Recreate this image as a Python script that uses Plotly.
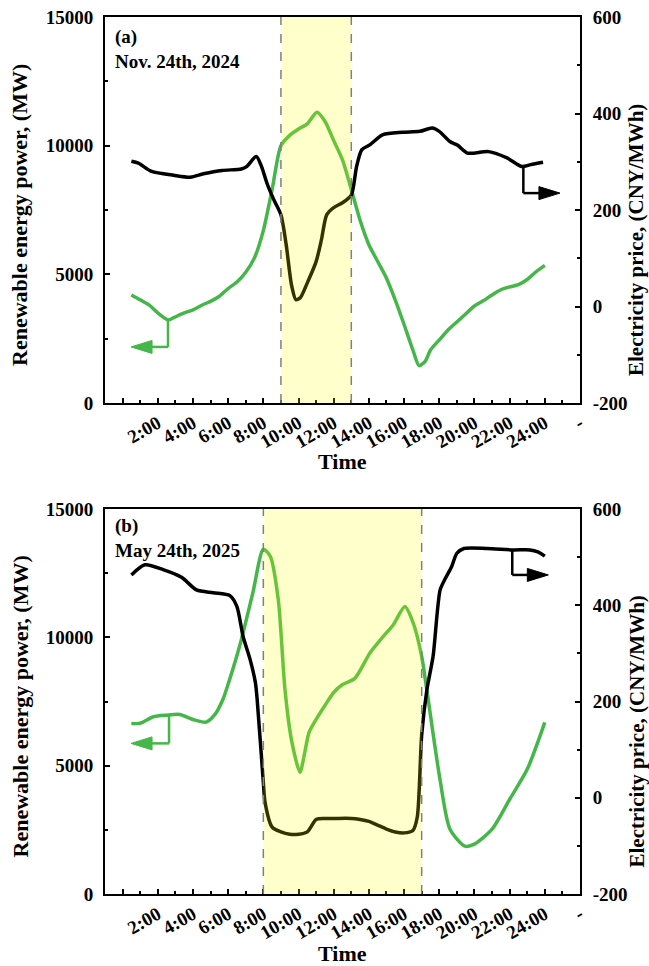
import plotly.graph_objects as go
from plotly.subplots import make_subplots

# ---------------- data ----------------
# Panel (a) Nov. 24th, 2024
t_power_a = [0.5, 1.0, 1.5, 2.0, 2.6, 3.0, 3.5, 4.0, 4.5, 5.0, 5.5, 6.0, 6.5, 7.0, 7.5, 8.0, 8.5, 9.0,
             9.5, 10.0, 10.5, 11.05, 11.5, 12.0, 12.5, 13.0, 13.5, 14.0, 14.5, 15.0, 15.5, 16.0, 16.5,
             16.85, 17.2, 17.5, 18.0, 18.5, 19.0, 19.5, 20.0, 20.5, 21.0, 21.5, 22.0, 22.5, 23.0, 23.5, 24.0]
power_a = [4200, 4010, 3810, 3500, 3230, 3350, 3500, 3620, 3800, 3950, 4150, 4450, 4700, 5080, 5650, 6700,
           8300, 10000, 10400, 10650, 10850, 11300, 10950, 10200, 9450, 8300, 7100, 6150, 5500, 4850, 4000,
           3050, 2060, 1450, 1620, 2060, 2450, 2840, 3150, 3460, 3770, 3970, 4200, 4400, 4510, 4600, 4800,
           5100, 5350]
t_price_a = [0.5, 0.9, 1.65, 2.9, 3.85, 4.6, 5.65, 6.75, 7.05, 7.6, 7.9, 8.2, 8.6, 9.0, 9.3, 9.6, 9.85,
             10.1, 10.5, 11.0, 11.3, 11.6, 12.0, 12.5, 13.0, 13.3, 13.6, 14.05, 14.8, 15.9, 16.9, 17.6,
             18.0, 18.6, 19.05, 19.6, 20.8, 21.85, 22.7, 23.2, 23.9]
price_a = [301, 297, 280, 272, 268, 275, 282, 285, 290, 311, 290, 256, 221, 190, 128, 45, 14, 18, 49, 93,
           138, 190, 205, 215, 231, 290, 325, 335, 356, 361, 363, 370, 363, 342, 334, 318, 321, 308, 290,
           294, 299]

# Panel (b) May 24th, 2025
t_power_b = [0.5, 1.0, 1.75, 2.5, 3.25, 4.0, 4.75, 5.25, 5.7, 5.9, 6.65, 7.4, 8.0, 8.4, 8.85, 9.23, 9.6,
             10.08, 10.35, 10.6, 11.0, 11.5, 12.0, 12.5, 13.2, 14.06, 14.82, 15.39, 16.05, 16.52, 17.0,
             17.29, 18.04, 18.61, 19.46, 20.0, 21.0, 22.0, 23.0, 24.0]
power_b = [6645, 6650, 6905, 6968, 6995, 6800, 6696, 6995, 7580, 7966, 9650, 11724, 13434, 13147, 11464,
           7966, 6000, 4741, 5500, 6300, 6800, 7345, 7850, 8160, 8400, 9393, 10038, 10492, 11203, 10558,
           9260, 7966, 4470, 2525, 1865, 1943, 2526, 3690, 4857, 6684]
t_price_b = [0.5, 1.27, 2.3, 3.35, 4.2, 5.15, 6.1, 6.5, 6.85, 7.25, 7.55, 7.65, 8.0, 8.1, 8.5, 9.0, 9.5,
             10.0, 10.5, 11.0, 11.5, 12.0, 13.0, 13.5, 14.0, 14.5, 15.0, 15.5, 16.0, 16.5, 16.75, 17.0,
             17.3, 17.65, 18.05, 18.35, 18.7, 19.0, 19.4, 20.7, 22.2, 23.15, 23.6, 24.0]
price_b = [463, 484, 474, 458, 432, 426, 420, 397, 335, 287, 239, 204, 32, -10, -61, -71, -76, -76, -71,
           -45, -43, -43, -43, -45, -49, -57, -65, -71, -73, -68, -40, 130, 225, 294, 432, 456, 480, 508,
           518, 518, 515, 515, 511, 502]

shade_a = [9, 13]
shade_b = [8, 17]

tick_vals = [0, 2, 4, 6, 8, 10, 12, 14, 16, 18, 20, 22, 24, 26]
tick_text = ["", "2:00", "4:00", "6:00", "8:00", "10:00", "12:00", "14:00", "16:00", "18:00",
             "20:00", "22:00", "24:00", "-"]
power_ticks = [0, 5000, 10000, 15000]
power_tick_text = ["0", "5000", "10000", "15000"]
price_ticks = [-200, 0, 200, 400, 600]
price_tick_text = ["-200", "0", "200", "400", "600"]
panel_labels = ["(a)", "(b)"]
panel_dates = ["Nov. 24th, 2024", "May 24th, 2025"]

# arrow guides: (x on curve, y on curve, y of arrow, tip x)
arrow_power = [(2.58, 3230, 2179, 0.48), (2.64, 6968, 5868, 0.48)]
arrow_price = [(22.78, 290, 235, 24.86), (22.15, 515, 463, 24.2)]

GREEN = "#45b649"
BLACK = "#000000"
FONT = "Liberation Serif, Times New Roman, serif"

# ---------------- figure ----------------
W, H = 649, 966
ML, MR, MT, MB = 105, 69, 17, 72
fig = make_subplots(rows=2, cols=1, specs=[[{"secondary_y": True}], [{"secondary_y": True}]])

data = [(t_power_a, power_a, t_price_a, price_a), (t_power_b, power_b, t_price_b, price_b)]
for i, (tp, pw, tc, pc) in enumerate(data):
    r = i + 1
    fig.add_trace(go.Scatter(x=tp, y=pw, mode="lines", line=dict(color=GREEN, width=3.5, shape="spline",
                                                                   smoothing=0.7),
                             showlegend=False, hoverinfo="skip"), row=r, col=1, secondary_y=False)
    fig.add_trace(go.Scatter(x=tc, y=pc, mode="lines", line=dict(color=BLACK, width=3.5, shape="spline",
                                                                   smoothing=0.7),
                             showlegend=False, hoverinfo="skip"), row=r, col=1, secondary_y=True)

plot_h = H - MT - MB
def py(yp):
    return (H - MB - yp) / plot_h

dom_top = [py(403), 1.0]
dom_bot = [0.0, py(509)]

axis_font = dict(family=FONT, size=19, color="black", weight="bold")
common_x = dict(range=[-1, 26], tickmode="array", tickvals=tick_vals, ticktext=tick_text,
                ticks="inside", ticklen=5, tickwidth=1.5, tickcolor="black", showline=True,
                linecolor="black", linewidth=2, mirror=True, showgrid=False, zeroline=False,
                tickangle=-30, tickfont=axis_font, automargin=False,
                minor=dict(ticks="inside", ticklen=3, tickwidth=1.5, tickcolor="black",
                           tickvals=[1, 3, 5, 7, 9, 11, 13, 15, 17, 19, 21, 23, 25], showgrid=False))
common_yl = dict(range=[0, 15000], tickmode="array", tickvals=power_ticks, ticktext=power_tick_text,
                 ticks="inside", ticklen=5, automargin=False,
                 tickwidth=1.5, tickcolor="black", showline=True, linecolor="black", linewidth=2,
                 showgrid=False, zeroline=False, tickfont=axis_font, ticklabelstandoff=6,
                 minor=dict(ticks="inside", ticklen=3, tickwidth=1.5, tickcolor="black",
                            tickvals=[2500, 7500, 12500], showgrid=False))
common_yr = dict(range=[-200, 600], tickmode="array", tickvals=price_ticks, ticktext=price_tick_text,
                 ticks="inside", ticklen=5, automargin=False,
                 tickwidth=1.5, tickcolor="black", showline=True, linecolor="black", linewidth=2,
                 showgrid=False, zeroline=False, tickfont=axis_font, ticklabelstandoff=7,
                 minor=dict(ticks="inside", ticklen=3, tickwidth=1.5, tickcolor="black",
                            tickvals=[-100, 100, 300, 500], showgrid=False))

fig.update_layout(
    width=W, height=H, margin=dict(l=ML, r=MR, t=MT, b=MB, autoexpand=False),
    plot_bgcolor="white", paper_bgcolor="white",
    font=dict(family=FONT, color="black"),
    xaxis=dict(domain=[0, 1], anchor="y", **common_x),
    xaxis2=dict(domain=[0, 1], anchor="y3", **common_x),
    yaxis=dict(domain=dom_top, anchor="x", **common_yl),
    yaxis2=dict(domain=dom_top, anchor="x", overlaying="y", side="right", **common_yr),
    yaxis3=dict(domain=dom_bot, anchor="x2", **common_yl),
    yaxis4=dict(domain=dom_bot, anchor="x2", overlaying="y3", side="right", **common_yr),
)

def px(xp):
    return (xp - ML) / (W - ML - MR)

shapes = []
annotations = []
title_font = dict(family=FONT, size=22, color="black", weight="bold")
rtitle_font = dict(family=FONT, size=21, color="black", weight="bold")
label_font = dict(family=FONT, size=19, color="black", weight="bold")
offsets = [0, 491.5]
xrefs = ["x", "x2"]
ylrefs = ["y", "y3"]
yrrefs = ["y2", "y4"]
shades = [shade_a, shade_b]

for i in range(2):
    xr, yl, yr = xrefs[i], ylrefs[i], yrrefs[i]
    s0, s1 = shades[i]
    shapes.append(dict(type="rect", xref=xr, yref=yl + " domain", x0=s0, x1=s1, y0=0, y1=1,
                       fillcolor="rgba(255,255,0,0.2)", line=dict(width=0), layer="above"))
    for sx in (s0, s1):
        shapes.append(dict(type="line", xref=xr, yref=yl + " domain", x0=sx, x1=sx, y0=0, y1=1,
                           line=dict(color="#808080", width=1.5, dash="dash"), layer="above"))
    # power arrow (left)
    ax, ay0, ay1, tip = arrow_power[i]
    shapes.append(dict(type="line", xref=xr, yref=yl, x0=ax, x1=ax, y0=ay0, y1=ay1,
                       line=dict(color=GREEN, width=2.5)))
    shapes.append(dict(type="line", xref=xr, yref=yl, x0=ax, x1=tip + 1.0, y0=ay1, y1=ay1,
                       line=dict(color=GREEN, width=2.5)))
    shapes.append(dict(type="path", xref=xr, yref=yl, xsizemode="pixel", ysizemode="pixel",
                       xanchor=tip, yanchor=ay1, path="M0,0 L21,6.5 L21,-6.5 Z",
                       fillcolor=GREEN, line=dict(color=GREEN, width=1)))
    # price arrow (right)
    bx, by0, by1, btip = arrow_price[i]
    shapes.append(dict(type="line", xref=xr, yref=yr, x0=bx, x1=bx, y0=by0, y1=by1,
                       line=dict(color=BLACK, width=2.5)))
    shapes.append(dict(type="line", xref=xr, yref=yr, x0=bx, x1=btip - 1.0, y0=by1, y1=by1,
                       line=dict(color=BLACK, width=2.5)))
    shapes.append(dict(type="path", xref=xr, yref=yr, xsizemode="pixel", ysizemode="pixel",
                       xanchor=btip, yanchor=by1, path="M0,0 L-21,6.5 L-21,-6.5 Z",
                       fillcolor=BLACK, line=dict(color=BLACK, width=1)))

    off = offsets[i]
    annotations.append(dict(text=panel_labels[i], xref="paper", yref="paper", x=px(113), y=py(37.5 + off - (3 if i else 0)),
                            xanchor="left", yanchor="middle", showarrow=False, font=label_font))
    annotations.append(dict(text=panel_dates[i], xref="paper", yref="paper", x=px(113), y=py(61 + off - (2 if i else 0)),
                            xanchor="left", yanchor="middle", showarrow=False, font=label_font))
    annotations.append(dict(text="Time", xref="paper", yref="paper", x=px(342), y=py(466 + off - 4),
                            xanchor="center", yanchor="middle", showarrow=False, font=title_font))
    annotations.append(dict(text="Renewable energy power, (MW)", xref="paper", yref="paper", x=px(20),
                            y=py(215 + off), xanchor="center", yanchor="middle", textangle=-90,
                            showarrow=False, font=title_font))
    annotations.append(dict(text="Electricity price, (CNY/MWh)", xref="paper", yref="paper", x=px(636),
                            y=py(240 + off), xanchor="center", yanchor="middle", textangle=-90,
                            showarrow=False, font=rtitle_font))

fig.update_layout(shapes=shapes, annotations=annotations)
fig.write_html("out.html", config={"displayModeBar": False},
               post_script="document.body.style.margin='0';document.body.style.overflow='hidden';")
